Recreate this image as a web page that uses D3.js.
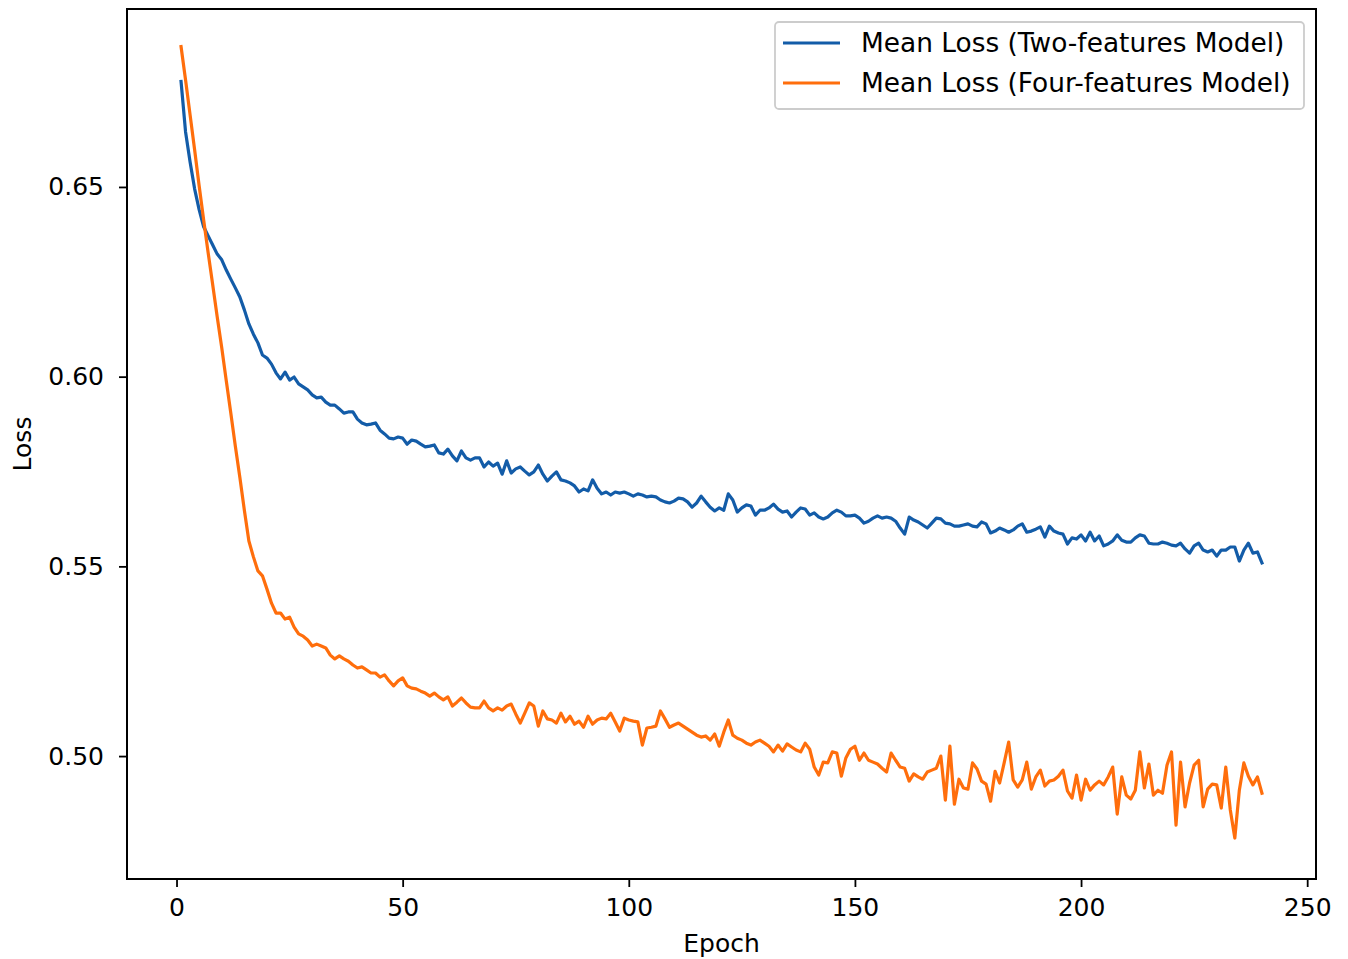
<!DOCTYPE html>
<meta charset="utf-8">
<script src="https://d3js.org/d3.v7.min.js"></script>
<style>
  html, body { margin: 0; padding: 0; background: #fff; overflow: hidden; }
  svg { display: block; }
  text { font-family: "DejaVu Sans", sans-serif; fill: #000; }
</style>
<div id="chart"></div>
<script>

// epochs 1..240
var epochs = d3.range(1, 241)

var twoFeatLoss = [
  0.6778, 0.6645, 0.6566, 0.6495, 0.6440, 0.6395, 0.6371, 0.6347, 0.6323, 0.6308,
  0.6281, 0.6257, 0.6234, 0.6210, 0.6176, 0.6139, 0.6112, 0.6089, 0.6057, 0.6049,
  0.6033, 0.6010, 0.5994, 0.6012, 0.5991, 0.5999, 0.5981, 0.5973, 0.5965, 0.5952,
  0.5944, 0.5946, 0.5933, 0.5925, 0.5925, 0.5915, 0.5904, 0.5907, 0.5907, 0.5888,
  0.5878, 0.5873, 0.5875, 0.5878, 0.5859, 0.5849, 0.5838, 0.5836, 0.5841, 0.5838,
  0.5822, 0.5833, 0.5830, 0.5822, 0.5815, 0.5817, 0.5820, 0.5799, 0.5796, 0.5809,
  0.5791, 0.5778, 0.5804, 0.5786, 0.5780, 0.5786, 0.5786, 0.5762, 0.5775, 0.5764,
  0.5772, 0.5743, 0.5778, 0.5746, 0.5757, 0.5762, 0.5751, 0.5741, 0.5749, 0.5767,
  0.5743, 0.5725, 0.5738, 0.5749, 0.5728, 0.5725, 0.5720, 0.5712, 0.5696, 0.5704,
  0.5699, 0.5728, 0.5706, 0.5691, 0.5696, 0.5688, 0.5696, 0.5693, 0.5696, 0.5691,
  0.5685, 0.5691, 0.5688, 0.5683, 0.5685, 0.5683, 0.5675, 0.5670, 0.5667, 0.5672,
  0.5680, 0.5678, 0.5670, 0.5656, 0.5667, 0.5685, 0.5670, 0.5656, 0.5646, 0.5654,
  0.5648, 0.5691, 0.5675, 0.5643, 0.5654, 0.5662, 0.5659, 0.5635, 0.5648, 0.5648,
  0.5654, 0.5664, 0.5651, 0.5643, 0.5646, 0.5630, 0.5643, 0.5654, 0.5651, 0.5635,
  0.5641, 0.5630, 0.5625, 0.5630, 0.5641, 0.5648, 0.5643, 0.5633, 0.5633, 0.5635,
  0.5627, 0.5614, 0.5619, 0.5627, 0.5633, 0.5627, 0.5630, 0.5627, 0.5619, 0.5601,
  0.5585, 0.5630, 0.5622, 0.5617, 0.5609, 0.5601, 0.5614, 0.5627, 0.5625, 0.5614,
  0.5612, 0.5606, 0.5606, 0.5609, 0.5612, 0.5606, 0.5604, 0.5617, 0.5612, 0.5588,
  0.5593, 0.5601, 0.5596, 0.5590, 0.5596, 0.5606, 0.5612, 0.5590, 0.5593, 0.5598,
  0.5604, 0.5577, 0.5606, 0.5593, 0.5588, 0.5585, 0.5559, 0.5575, 0.5572, 0.5583,
  0.5567, 0.5590, 0.5567, 0.5580, 0.5554, 0.5559, 0.5567, 0.5583, 0.5569, 0.5564,
  0.5564, 0.5575, 0.5583, 0.5580, 0.5561, 0.5559, 0.5559, 0.5564, 0.5561, 0.5556,
  0.5554, 0.5561, 0.5546, 0.5535, 0.5554, 0.5561, 0.5543, 0.5538, 0.5543, 0.5527,
  0.5543, 0.5543, 0.5551, 0.5551, 0.5514, 0.5543, 0.5561, 0.5535, 0.5538, 0.5509
]

var fourFeatLoss = [
  0.6870, 0.6782, 0.6690, 0.6598, 0.6503, 0.6413, 0.6326, 0.6242, 0.6157, 0.6076,
  0.5989, 0.5904, 0.5817, 0.5735, 0.5648, 0.5567, 0.5525, 0.5488, 0.5475, 0.5440,
  0.5403, 0.5377, 0.5377, 0.5361, 0.5366, 0.5340, 0.5322, 0.5316, 0.5306, 0.5290,
  0.5295, 0.5290, 0.5285, 0.5266, 0.5256, 0.5264, 0.5256, 0.5250, 0.5240, 0.5232,
  0.5235, 0.5227, 0.5219, 0.5219, 0.5208, 0.5214, 0.5198, 0.5185, 0.5198, 0.5206,
  0.5185, 0.5179, 0.5177, 0.5171, 0.5166, 0.5158, 0.5166, 0.5156, 0.5148, 0.5156,
  0.5132, 0.5142, 0.5153, 0.5140, 0.5129, 0.5127, 0.5127, 0.5145, 0.5127, 0.5119,
  0.5127, 0.5121, 0.5132, 0.5137, 0.5111, 0.5087, 0.5113, 0.5140, 0.5132, 0.5079,
  0.5119, 0.5098, 0.5095, 0.5087, 0.5113, 0.5090, 0.5105, 0.5084, 0.5092, 0.5076,
  0.5105, 0.5084, 0.5095, 0.5100, 0.5098, 0.5113, 0.5090, 0.5066, 0.5100, 0.5095,
  0.5092, 0.5090, 0.5029, 0.5074, 0.5076, 0.5079, 0.5119, 0.5098, 0.5076, 0.5082,
  0.5087, 0.5079, 0.5071, 0.5063, 0.5055, 0.5050, 0.5053, 0.5042, 0.5058, 0.5026,
  0.5063, 0.5095, 0.5055, 0.5047, 0.5042, 0.5034, 0.5029, 0.5037, 0.5042, 0.5034,
  0.5026, 0.5011, 0.5029, 0.5013, 0.5032, 0.5024, 0.5016, 0.5011, 0.5034, 0.5018,
  0.4971, 0.4950, 0.4984, 0.4982, 0.5011, 0.5008, 0.4947, 0.4995, 0.5018, 0.5026,
  0.4989, 0.5008, 0.4989, 0.4984, 0.4979, 0.4968, 0.4958, 0.5008, 0.4989, 0.4971,
  0.4968, 0.4934, 0.4953, 0.4945, 0.4939, 0.4958, 0.4963, 0.4968, 0.5000, 0.4884,
  0.5026, 0.4873, 0.4939, 0.4916, 0.4913, 0.4982, 0.4966, 0.4934, 0.4926, 0.4881,
  0.4960, 0.4929, 0.4982, 0.5037, 0.4937, 0.4918, 0.4937, 0.4984, 0.4913, 0.4945,
  0.4963, 0.4921, 0.4934, 0.4937, 0.4947, 0.4963, 0.4908, 0.4889, 0.4950, 0.4884,
  0.4939, 0.4910, 0.4924, 0.4934, 0.4924, 0.4945, 0.4971, 0.4847, 0.4945, 0.4897,
  0.4887, 0.4910, 0.5011, 0.4916, 0.4979, 0.4897, 0.4910, 0.4902, 0.4976, 0.5011,
  0.4818, 0.4984, 0.4866, 0.4929, 0.4976, 0.4989, 0.4866, 0.4913, 0.4926, 0.4924,
  0.4863, 0.4971, 0.4858, 0.4784, 0.4910, 0.4982, 0.4947, 0.4924, 0.4945, 0.4902
]

var seriesNames = ["Mean Loss (Two-features Model)", "Mean Loss (Four-features Model)"]
var seriesColors = ["#135ca8", "#ff6e0c"]
var xTicks = [0, 50, 100, 150, 200, 250]
var yTicks = [0.50, 0.55, 0.60, 0.65]

var w = 1348, h = 959
var margin = {top: 9, right: 32, bottom: 80, left: 127}
var innerWidth = w - margin.left - margin.right,
    innerHeight = h - margin.top - margin.bottom

var svg = d3.select("#chart")
  .append("svg")
    .attr("width", w)
    .attr("height", h)

var xScale = d3.scaleLinear()
  .domain([-10.95, 251.95])
  .range([0, innerWidth])

var yScale = d3.scaleLinear()
  .domain([0.4676, 0.6969])
  .range([innerHeight, 0])

var g = svg.append("g")
  .attr("transform", `translate(${margin.left},${margin.top})`)

// lines
var line = d3.line()
  .x((d, i) => xScale(epochs[i]))
  .y(d => yScale(d))

;[twoFeatLoss, fourFeatLoss].forEach(function(series, i) {
  g.append("path")
    .datum(series)
    .attr("fill", "none")
    .attr("stroke", seriesColors[i])
    .attr("stroke-width", 3.2)
    .attr("stroke-linejoin", "round")
    .attr("stroke-linecap", "square")
    .attr("d", line)
})

// axes
var xAxis = g.append("g")
  .attr("transform", `translate(0,${innerHeight})`)
  .call(d3.axisBottom(xScale).tickValues(xTicks).tickSize(8).tickPadding(11).tickFormat(d3.format("d")))

var yAxis = g.append("g")
  .call(d3.axisLeft(yScale).tickValues(yTicks).tickSize(8).tickPadding(15).tickFormat(d3.format(".2f")))

;[xAxis, yAxis].forEach(function(ax) {
  ax.select(".domain").remove()
  ax.selectAll(".tick line").attr("stroke", "#000").attr("stroke-width", 1.8)
  ax.selectAll(".tick text").attr("font-size", "25px").attr("font-family", "DejaVu Sans, sans-serif")
})

// frame
g.append("rect")
  .attr("width", innerWidth)
  .attr("height", innerHeight)
  .attr("fill", "none")
  .attr("stroke", "#000")
  .attr("stroke-width", 2)

// axis labels
svg.append("text")
  .attr("text-anchor", "middle")
  .attr("x", margin.left + innerWidth / 2)
  .attr("y", 952)
  .attr("font-size", "25px")
  .text("Epoch")

svg.append("text")
  .attr("text-anchor", "middle")
  .attr("transform", `translate(31,${margin.top + innerHeight / 2}) rotate(-90)`)
  .attr("font-size", "25px")
  .text("Loss")

// legend
var legend = svg.append("g").attr("transform", "translate(775,22)")
legend.append("rect")
  .attr("width", 529)
  .attr("height", 87)
  .attr("rx", 4)
  .attr("fill", "#fff")
  .attr("fill-opacity", 0.8)
  .attr("stroke", "#cccccc")
  .attr("stroke-width", 1.8)

seriesNames.forEach(function(name, i) {
  var row = legend.append("g").attr("transform", `translate(0,${21 + i * 40})`)
  row.append("line")
    .attr("x1", 8).attr("x2", 65)
    .attr("stroke", seriesColors[i])
    .attr("stroke-width", 3.2)
  row.append("text")
    .attr("x", 86)
    .attr("dy", "0.35em")
    .attr("font-size", "26.4px")
    .text(name)
})

</script>
